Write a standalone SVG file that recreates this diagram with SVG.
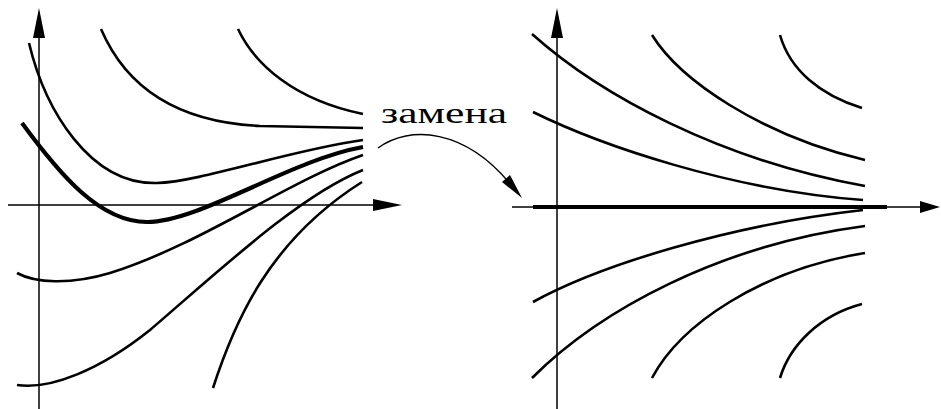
<svg xmlns="http://www.w3.org/2000/svg" width="941" height="409" viewBox="0 0 941 409">
<style>
.ax{stroke:#000;stroke-width:1.5;fill:none}
.c{stroke:#000;stroke-width:2.6;fill:none;stroke-linecap:butt}
.thick{stroke:#000;stroke-width:4.2;fill:none}
.ah{fill:#000;stroke:none}
.lbl{font-family:"Liberation Serif","DejaVu Serif",serif;font-size:30px;fill:#000}
</style>
<rect width="941" height="409" fill="#fff"/>
<g id="left-axes">
<line class="ax" x1="39" y1="30" x2="39" y2="409"/>
<polygon class="ah" points="39,8 33,38 45,38"/>
<line class="ax" x1="8" y1="205" x2="380" y2="205"/>
<polygon class="ah" points="402,205 373,199 373,211"/>
</g>
<g id="left-curves">
<path class="c" d="M238,29 C255,65 295,100 363,114"/>
<path class="c" d="M101,29 C125,85 175,122 260,126 L363,128"/>
<path class="c" d="M29,43 C45,110 90,185 157,183 C200,182 290,150 363,140"/>
<path class="thick" d="M22,123 C60,175 100,222 147,222 C200,222 290,160 363,147"/>
<path class="c" d="M17,273 C35,283 70,285 110,273 C200,245 290,180 363,155"/>
<path class="c" d="M17,385 C50,390 100,370 150,330 C220,270 300,195 363,170"/>
<path class="c" d="M213,388 C235,320 270,240 362,182"/>
</g>
<g id="right-axes">
<line class="ax" x1="557" y1="30" x2="557" y2="409"/>
<polygon class="ah" points="557,8 551,38 563,38"/>
<line class="ax" x1="512" y1="207" x2="925" y2="207"/>
<polygon class="ah" points="940,207 920,201 920,213"/>
</g>
<g id="right-curves">
<line class="thick" x1="533" y1="207" x2="887" y2="207"/>
<path class="c" d="M532,34 C600,95 720,160 865,186"/>
<path class="c" d="M533,112 C600,145 730,190 863,200"/>
<path class="c" d="M652,35 C680,80 760,135 865,160"/>
<path class="c" d="M780,35 C790,70 820,95 862,108"/>
<path class="c" d="M533,302 C600,265 730,225 863,210"/>
<path class="c" d="M532,378 C600,310 720,245 865,226"/>
<path class="c" d="M652,378 C680,325 760,270 865,253"/>
<path class="c" d="M780,378 C790,345 820,315 862,304"/>
</g>
<g id="connector">
<path class="ax" d="M378,148 C410,125 465,128 512,186"/>
<polygon class="ah" points="522,198 502,182 510,175"/>
</g>
<g id="label">
<text class="lbl" x="381" y="123" textLength="126" lengthAdjust="spacingAndGlyphs">замена</text>
</g>
</svg>
